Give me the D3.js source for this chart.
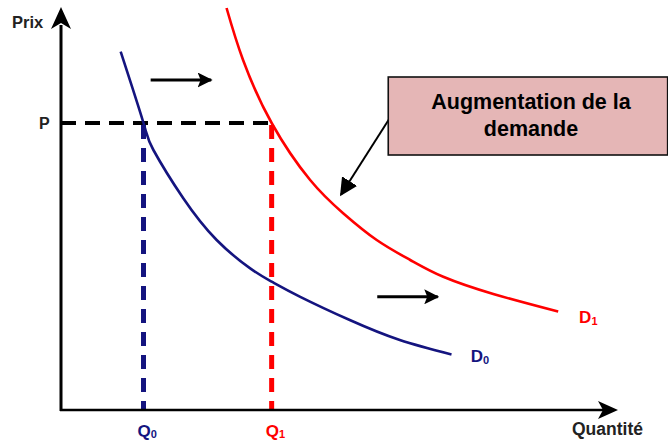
<!DOCTYPE html>
<html><head><meta charset="utf-8">
<script src="https://cdn.jsdelivr.net/npm/d3@7"></script>
<style>body{margin:0;background:#fff}svg{display:block}text{font-family:"Liberation Sans",Arial,sans-serif;font-weight:bold}</style>
</head><body><svg id="c" width="668" height="441"></svg>
<script>
// Data (quantity, price) in chart units
const demandD0 = [[10.85,89.6],[15,71.75],[16.8,65],[22.2,53],[28.3,42.5],[34.4,35.4],[38.3,32.1],[43.5,28.3],[52.5,22.5],[61.6,17.5],[71.0,13.9]];
const demandD1 = [[30.1,100.5],[33.1,87.5],[38.3,71.75],[45.3,57.5],[51.3,49.2],[57.4,42.5],[63.5,37.5],[69.5,33.3],[78.6,29.0],[90.4,24.6]];
const priceP = 71.75;
const quantities = [{label:"Q", sub:"0", q:15, color:"#14147f"},{label:"Q", sub:"1", q:38.3, color:"#ff0000"}];
const curveLabels = [{label:"D", sub:"0", q:74.5, p:13.5, color:"#14147f"},{label:"D", sub:"1", q:94.2, p:23.3, color:"#ff0000"}];
const shiftArrows = [[16.3,27.3,82.5],[57.5,68.5,28.3]];
const boxText = ["Augmentation de la","demande"];

const svg = d3.select("#c");
const x = d3.scaleLinear().domain([0,100]).range([61,611]);
const y = d3.scaleLinear().domain([0,100]).range([410,10]);

const defs = svg.append("defs");
defs.append("marker").attr("id","ah").attr("viewBox","0 0 10 10").attr("refX",9).attr("refY",5)
  .attr("markerWidth",5).attr("markerHeight",5).attr("markerUnits","strokeWidth").attr("orient","auto")
  .append("path").attr("d","M0,0 L10,5 L0,10 L2,5 Z").attr("fill","#000");
defs.append("marker").attr("id","ah2").attr("viewBox","0 0 10 10").attr("refX",9).attr("refY",5)
  .attr("markerWidth",9).attr("markerHeight",9).attr("markerUnits","strokeWidth").attr("orient","auto")
  .append("path").attr("d","M0,0 L10,5 L0,10 Z").attr("fill","#000");

// Dashed guides
svg.append("line").attr("x1",x(0)).attr("x2",x(quantities[1].q)).attr("y1",y(priceP)).attr("y2",y(priceP))
  .attr("stroke","#000").attr("stroke-width",4).attr("stroke-dasharray","15,9");
quantities.forEach(d=>{
  svg.append("line").attr("x1",x(d.q)).attr("x2",x(d.q)).attr("y1",y(priceP)+2).attr("y2",y(0))
    .attr("stroke",d.color).attr("stroke-width",5).attr("stroke-dasharray","14,9");
});

// Axes
svg.append("line").attr("x1",x(0)).attr("x2",x(0)).attr("y1",y(0)+1).attr("y2",y(100)+15).attr("stroke","#000").attr("stroke-width",3);
svg.append("path").attr("d",`M${x(0)},${y(100)-3} L${x(0)+10},${y(100)+19} L${x(0)},${y(100)+13} L${x(0)-10},${y(100)+19} Z`).attr("fill","#000");
svg.append("line").attr("x1",x(0)-1).attr("x2",x(100)).attr("y1",y(0)).attr("y2",y(0)).attr("stroke","#000").attr("stroke-width",2.5);
svg.append("path").attr("d",`M${x(100)+7},${y(0)} L${x(100)-13},${y(0)-9} L${x(100)-8},${y(0)} L${x(100)-13},${y(0)+9} Z`).attr("fill","#000");

// Curves
const line = d3.line().x(d=>x(d[0])).y(d=>y(d[1])).curve(d3.curveNatural);
svg.append("path").datum(demandD0).attr("d",line).attr("fill","none").attr("stroke","#14147f").attr("stroke-width",2.6);
svg.append("path").datum(demandD1).attr("d",line).attr("fill","none").attr("stroke","#ff0000").attr("stroke-width",2.6);

// Labels
svg.append("text").attr("x",12).attr("y",28).attr("font-size",16.5).attr("fill","#222").text("Prix");
svg.append("text").attr("x",39).attr("y",y(priceP)+6).attr("font-size",16).attr("fill","#222").text("P");
svg.append("text").attr("x",572).attr("y",435).attr("font-size",17.5).attr("fill","#222").text("Quantité");
quantities.forEach(d=>{
  const t = svg.append("text").attr("x",x(d.q)-6).attr("y",437).attr("font-size",17).attr("fill",d.color);
  t.append("tspan").text(d.label);
  t.append("tspan").attr("font-size",11).attr("dy",1).text(d.sub);
});
curveLabels.forEach(d=>{
  const t = svg.append("text").attr("x",x(d.q)).attr("y",y(d.p)+6).attr("font-size",17).attr("fill",d.color);
  t.append("tspan").text(d.label);
  t.append("tspan").attr("font-size",11).attr("dy",2).text(d.sub);
});

// Shift arrows
shiftArrows.forEach(a=>{
  svg.append("line").attr("x1",x(a[0])).attr("x2",x(a[1])).attr("y1",y(a[2])).attr("y2",y(a[2]))
    .attr("stroke","#000").attr("stroke-width",3).attr("marker-end","url(#ah)");
});

// Annotation box
svg.append("line").attr("x1",x(59.7)).attr("y1",y(72.8)).attr("x2",x(50.9)).attr("y2",y(53.8))
  .attr("stroke","#000").attr("stroke-width",2).attr("marker-end","url(#ah2)");
svg.append("rect").attr("x",x(59.5)).attr("y",y(83.25)).attr("width",x(110.3)-x(59.5)).attr("height",y(63.75)-y(83.25))
  .attr("fill","#e5b6b6").attr("stroke","#111").attr("stroke-width",1.6);
boxText.forEach((t,i)=>{
  svg.append("text").attr("x",531).attr("y",109+i*27).attr("text-anchor","middle").attr("font-size",21.5).attr("fill","#000").text(t);
});
</script></body></html>
